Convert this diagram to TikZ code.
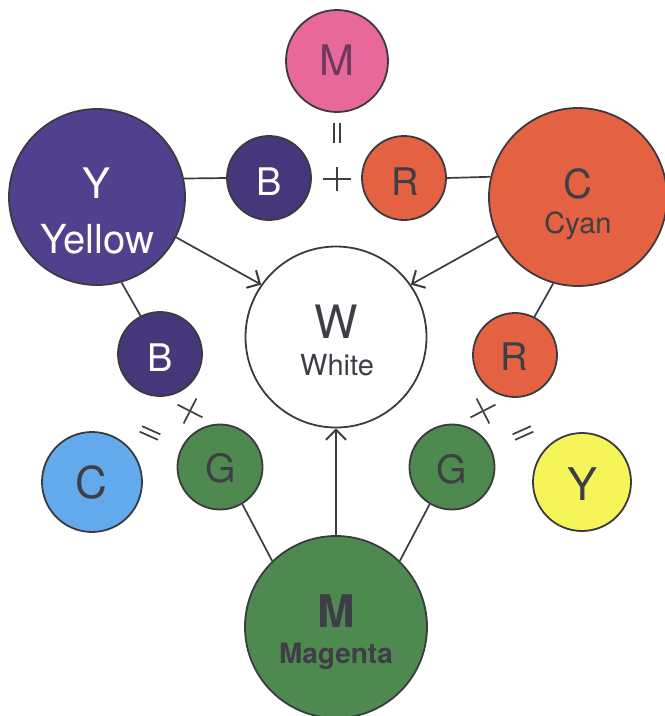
\documentclass[tikz,border=0pt]{standalone}
\usepackage{fontspec}
\setmainfont{TeX Gyre Heros}
\usetikzlibrary{arrows.meta}
\definecolor{pinkM}{HTML}{E8689C}
\definecolor{purpY}{HTML}{51408E}
\definecolor{purpB}{HTML}{45377A}
\definecolor{orangeR}{HTML}{E46242}
\definecolor{blueC}{HTML}{62AAEB}
\definecolor{greenG}{HTML}{4E8A50}
\definecolor{yellowY}{HTML}{F5F55A}
\definecolor{outline}{HTML}{3A3A40}
\definecolor{txt}{HTML}{3E3E46}
\definecolor{pinktxt}{HTML}{6A3A58}
\begin{document}
\begin{tikzpicture}[x=1pt,y=-1pt,
  disc/.style={circle, draw=outline, line width=1.8pt, inner sep=0pt},
  conn/.style={draw=outline, line width=1.7pt},
  arr/.style={conn, -{Straight Barb[length=10pt,width=20pt,line width=2pt]}},
  sym/.style={draw=txt, line width=1.7pt},
  lbl/.style={anchor=base, inner sep=0pt, text=txt},
  wlbl/.style={anchor=base, inner sep=0pt, text=white},
]
\useasboundingbox (0,0) rectangle (665,716);

% circles
\node[disc, fill=pinkM, minimum size=102pt] (Mtop) at (337,61) {};
\node[disc, fill=purpY, minimum size=176pt] (Yb) at (97,197) {};
\node[disc, fill=purpB, minimum size=84pt] (Btop) at (269,178) {};
\node[disc, fill=orangeR, minimum size=84pt] (Rtop) at (404,178) {};
\node[disc, fill=orangeR, minimum size=178pt] (Cc) at (578,197) {};
\node[disc, fill=white, minimum size=181pt] (W) at (336,337) {};
\node[disc, fill=purpB, minimum size=84pt] (Bl) at (160,354) {};
\node[disc, fill=orangeR, minimum size=84pt] (Rr) at (515,355) {};
\node[disc, fill=blueC, minimum size=100pt] (Cl) at (92,482) {};
\node[disc, fill=greenG, minimum size=85pt] (Gl) at (220,467) {};
\node[disc, fill=greenG, minimum size=85pt] (Gr) at (452,467) {};
\node[disc, fill=yellowY, minimum size=98pt] (Yr) at (582,482) {};
\node[disc, fill=greenG, minimum size=182pt] (Mg) at (336,627) {};

% labels
\node[lbl, text=pinktxt, font=\fontsize{42}{42}\selectfont] (tMtop) at (337,75) {M};
\node[wlbl, font=\fontsize{38}{38}\selectfont] (tBtop) at (269,195) {B};
\node[lbl, font=\fontsize{38}{38}\selectfont] (tRtop) at (405,195) {R};
\node[wlbl, font=\fontsize{42}{42}\selectfont] (tY) at (97,198) {Y};
\node[wlbl, font=\fontsize{40}{40}\selectfont] (tYellow) at (97,253) {Yellow};
\node[lbl, font=\fontsize{40}{40}\selectfont] (tC) at (578,198) {C};
\node[lbl, font=\fontsize{29}{29}\selectfont] (tCyan) at (578,233) {Cyan};
\node[lbl, font=\fontsize{46}{46}\selectfont] (tW) at (336,338) {W};
\node[lbl, font=\fontsize{29}{29}\selectfont] (tWhite) at (337,375) {White};
\node[wlbl, font=\fontsize{38}{38}\selectfont] (tBl) at (160,371) {B};
\node[lbl, font=\fontsize{39}{39}\selectfont] (tGl) at (221,482) {G};
\node[lbl, font=\fontsize{44}{44}\selectfont] (tCl) at (91,498) {C};
\node[lbl, font=\fontsize{38}{38}\selectfont] (tRr) at (514,370) {R};
\node[lbl, font=\fontsize{39}{39}\selectfont] (tGr) at (452,483) {G};
\node[lbl, font=\fontsize{45}{45}\selectfont] (tYr) at (583,500) {Y};
\node[lbl, font=\bfseries\fontsize{45}{45}\selectfont] (tM) at (336,627) {M};
\node[lbl, font=\bfseries\fontsize{28}{28}\selectfont] (tMagenta) at (336,663) {Magenta};

% connectors
\draw[conn] (Btop.west) -- (Yb.12.5);
\draw[conn] (Rtop.east) -- (Cc.167.5);
\draw[conn] (Yb.-74) -- (Bl.117);
\draw[conn] (Cc.-106) -- (Rr.63);
\draw[conn] (Gl.-59) -- (Mg.134);
\draw[conn] (Gr.-121) -- (Mg.46);
\draw[arr] (Yb.-27) -- (W.145);
\draw[arr] (Cc.206.5) -- (W.35.5);
\draw[arr] (Mg.90) -- (W.270);

% plus and equal signs
\coordinate (eqTop) at (337,133);
\coordinate (plTop) at (337,179);
\coordinate (plL) at (190,411);
\coordinate (eqL) at (150,433);
\coordinate (plR) at (483,411);
\coordinate (eqR) at (523,433);

\draw[sym] ([shift={(-3,-10)}]eqTop) -- ([shift={(-3,10)}]eqTop);
\draw[sym] ([shift={(3,-10)}]eqTop) -- ([shift={(3,10)}]eqTop);
\draw[sym] ([shift={(-14,0)}]plTop) -- ([shift={(14,0)}]plTop);
\draw[sym] ([shift={(0,-12)}]plTop) -- ([shift={(0,12)}]plTop);

\begin{scope}[shift={(plL)}, rotate=-27]
  \draw[sym] (-14,0) -- (14,0);
  \draw[sym] (0,-14) -- (0,14);
\end{scope}
\begin{scope}[shift={(eqL)}, rotate=-24]
  \draw[sym] (-10,-3) -- (10,-3);
  \draw[sym] (-10,3) -- (10,3);
\end{scope}
\begin{scope}[shift={(plR)}, rotate=27]
  \draw[sym] (-14,0) -- (14,0);
  \draw[sym] (0,-14) -- (0,14);
\end{scope}
\begin{scope}[shift={(eqR)}, rotate=24]
  \draw[sym] (-10,-3) -- (10,-3);
  \draw[sym] (-10,3) -- (10,3);
\end{scope}
\end{tikzpicture}
\end{document}
